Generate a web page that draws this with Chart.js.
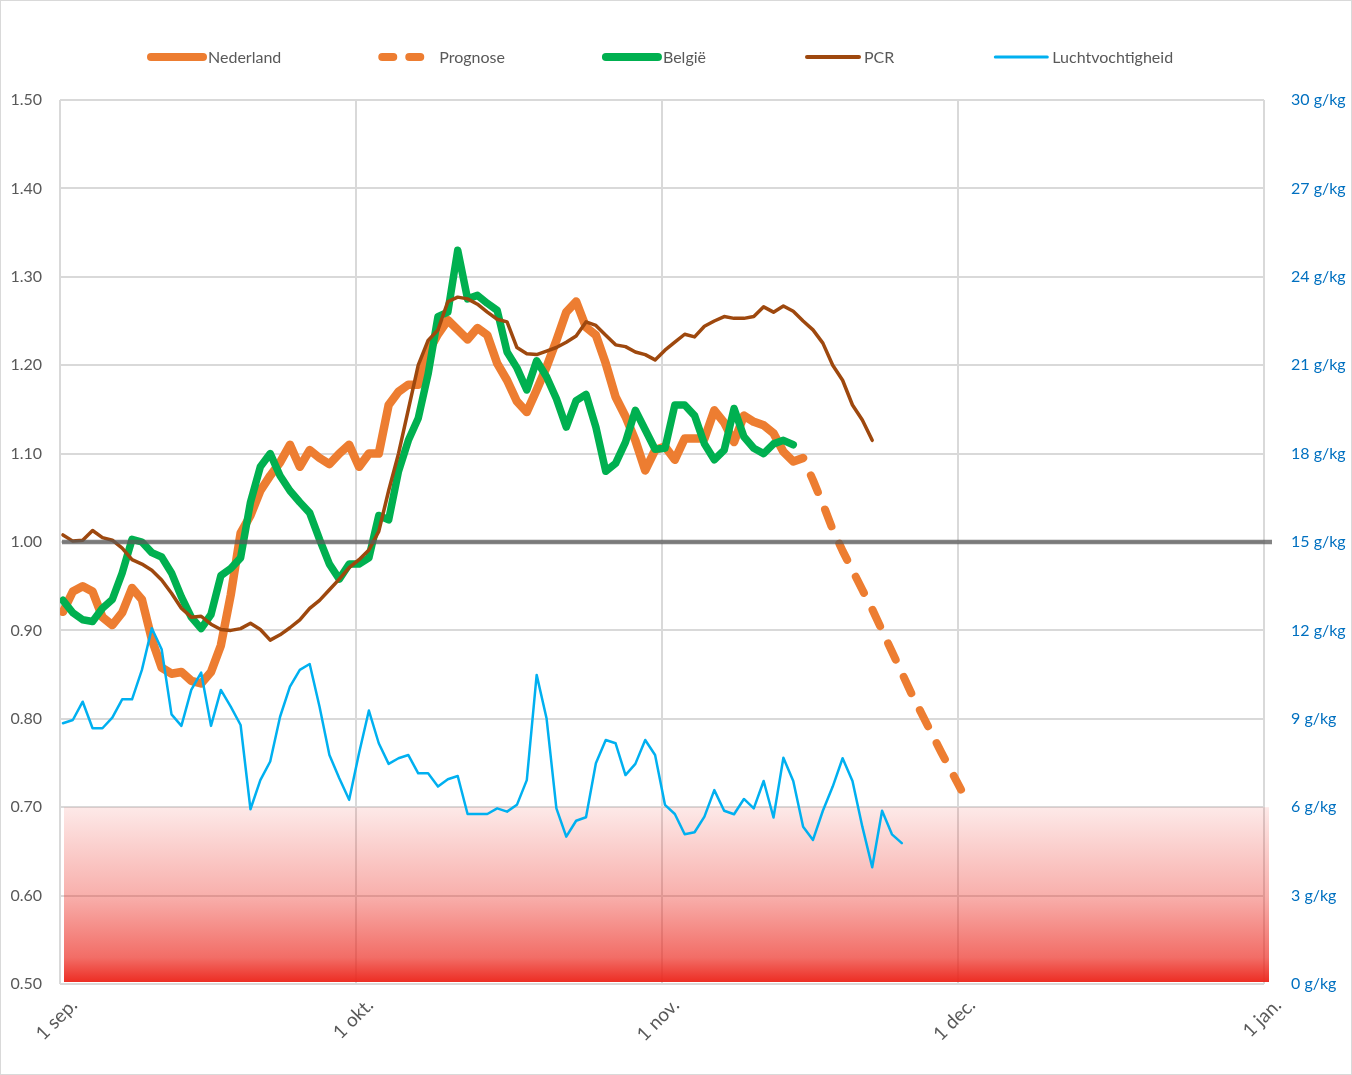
<!DOCTYPE html>
<html>
<head>
<meta charset="utf-8">
<script src="https://cdn.jsdelivr.net/npm/chart.js@4.4.1/dist/chart.umd.min.js"></script>
<style>
  html, body { margin: 0; padding: 0; background: #fff; }
  #wrap { width: 1352px; height: 1075px; }
</style>
</head>
<body>
<div id="wrap"><canvas id="chart" width="1352" height="1075"></canvas></div>
<script>
// x axis: day number counted from 1 sep
const monthDays = [0, 30, 61, 91, 122];
const monthLabels = ["1 sep.", "1 okt.", "1 nov.", "1 dec.", "1 jan."];
// daily points sit a bit after the start of their day, like in the source sheet
const dayOffset = 0.3;

const leftTicks = [0.5, 0.6, 0.7, 0.8, 0.9, 1.0, 1.1, 1.2, 1.3, 1.4, 1.5];
const rightTicks = [0, 3, 6, 9, 12, 15, 18, 21, 24, 27, 30];

const refLevel = 1.0;
const dryBand = [0.5, 0.7];

// series (one value per day, starting at the given day)
const nederlandStart = 0;
const nederland = [
  0.921, 0.944, 0.950, 0.944, 0.915, 0.906, 0.920, 0.948, 0.935, 0.890,
  0.858, 0.851, 0.853, 0.843, 0.840, 0.853, 0.883, 0.940, 1.010, 1.030,
  1.058, 1.075, 1.090, 1.110, 1.085, 1.104, 1.095, 1.088, 1.100, 1.110,
  1.085, 1.100, 1.100, 1.155, 1.170, 1.178, 1.178, 1.215, 1.235, 1.251,
  1.240, 1.229, 1.242, 1.234, 1.202, 1.183, 1.159, 1.147, 1.172, 1.198,
  1.228, 1.260, 1.272, 1.243, 1.234, 1.202, 1.164, 1.142, 1.115, 1.081,
  1.104, 1.108, 1.093, 1.117, 1.117, 1.117, 1.149, 1.135, 1.113, 1.143,
  1.136, 1.132, 1.123, 1.102, 1.091, 1.095
];

const prognoseStart = 75;
const prognose = [
  1.095, 1.070, 1.043, 1.014, 0.990, 0.968, 0.946, 0.924, 0.900, 0.876,
  0.852, 0.828, 0.806, 0.784, 0.762, 0.741, 0.720
];

const belgieStart = 0;
const belgie = [
  0.934, 0.920, 0.912, 0.910, 0.925, 0.935, 0.965, 1.003, 1.000, 0.988,
  0.983, 0.965, 0.938, 0.915, 0.902, 0.918, 0.962, 0.970, 0.982, 1.045,
  1.085, 1.100, 1.075, 1.058, 1.045, 1.033, 1.003, 0.975, 0.958, 0.975,
  0.975, 0.982, 1.030, 1.025, 1.080, 1.115, 1.140, 1.190, 1.255, 1.260,
  1.330, 1.275, 1.279, 1.270, 1.262, 1.215, 1.197, 1.172, 1.205, 1.187,
  1.162, 1.130, 1.160, 1.167, 1.130, 1.080, 1.089, 1.113, 1.149, 1.127,
  1.105, 1.106, 1.155, 1.155, 1.143, 1.111, 1.093, 1.104, 1.151, 1.119,
  1.106, 1.100, 1.111, 1.115, 1.110
];

const pcrStart = 0;
const pcr = [
  1.008, 1.001, 1.002, 1.013, 1.005, 1.002, 0.993, 0.980, 0.975, 0.968,
  0.957, 0.942, 0.925, 0.915, 0.916, 0.907, 0.901, 0.900, 0.902, 0.908,
  0.901, 0.889, 0.895, 0.903, 0.912, 0.925, 0.934, 0.946, 0.958, 0.971,
  0.980, 0.991, 1.012, 1.058, 1.100, 1.150, 1.200, 1.228, 1.240, 1.272,
  1.277, 1.275, 1.269, 1.260, 1.252, 1.249, 1.220, 1.213, 1.212, 1.216,
  1.220, 1.226, 1.233, 1.249, 1.245, 1.234, 1.223, 1.221, 1.215, 1.212,
  1.206, 1.217, 1.226, 1.235, 1.232, 1.244, 1.250, 1.255, 1.253, 1.253,
  1.255, 1.266, 1.260, 1.267, 1.261, 1.250, 1.240, 1.225, 1.200, 1.183,
  1.155, 1.138, 1.115
];

// g/kg, right axis
const luchtStart = 0;
const lucht = [
  8.85, 8.96, 9.58, 8.68, 8.68, 9.04, 9.66, 9.66, 10.66, 12.07,
  11.36, 9.15, 8.76, 9.98, 10.57, 8.76, 9.98, 9.41, 8.79, 5.93,
  6.92, 7.55, 9.07, 10.09, 10.66, 10.86, 9.41, 7.77, 6.98, 6.25,
  7.83, 9.28, 8.17, 7.47, 7.66, 7.77, 7.15, 7.15, 6.70, 6.95,
  7.06, 5.77, 5.77, 5.77, 5.96, 5.85, 6.08, 6.92, 10.49, 9.02,
  5.96, 5.00, 5.54, 5.66, 7.49, 8.28, 8.17, 7.09, 7.47, 8.28,
  7.77, 6.08, 5.77, 5.08, 5.15, 5.68, 6.58, 5.88, 5.76, 6.28,
  5.96, 6.89, 5.65, 7.68, 6.89, 5.34, 4.89, 5.88, 6.70, 7.66,
  6.89, 5.34, 3.96, 5.88, 5.08, 4.78
];

const FONT = "Lato, 'Open Sans', sans-serif";
const TEXT = "#595959";
const GRID = "#d9d9d9";

function toPoints(values, start) {
  return values.map((v, i) => ({ x: start + i + dayOffset, y: v }));
}

function lineSet(label, values, start, color, width, extra) {
  return Object.assign({
    label: label,
    data: toPoints(values, start),
    borderColor: color,
    backgroundColor: color,
    borderWidth: width,
    pointRadius: 0,
    tension: 0,
    fill: false,
    borderCapStyle: "round",
    borderJoinStyle: "round",
    yAxisID: "y"
  }, extra || {});
}

// red "dry air" zone under 0.70
const bandPlugin = {
  id: "dryBand",
  beforeDatasetsDraw(chart) {
    const { ctx, chartArea, scales } = chart;
    const yTop = scales.y.getPixelForValue(dryBand[1]);
    const yBot = scales.y.getPixelForValue(dryBand[0]);
    const g = ctx.createLinearGradient(0, yTop, 0, yBot);
    g.addColorStop(0, "rgba(236,40,30,0.10)");
    g.addColorStop(0.5, "rgba(236,40,30,0.37)");
    g.addColorStop(0.85, "rgba(236,40,30,0.68)");
    g.addColorStop(1, "rgba(236,40,30,1)");
    ctx.save();
    ctx.fillStyle = g;
    ctx.fillRect(chartArea.left + 4, yTop, chartArea.width + 1, yBot - yTop - 2);
    ctx.restore();
  }
};

// grey line at R = 1
const refPlugin = {
  id: "refLine",
  afterDatasetsDraw(chart) {
    const { ctx, chartArea, scales } = chart;
    const y = scales.y.getPixelForValue(refLevel);
    ctx.save();
    ctx.strokeStyle = "rgba(90,90,90,0.75)";
    ctx.lineWidth = 4.5;
    ctx.beginPath();
    ctx.moveTo(chartArea.left + 2, y);
    ctx.lineTo(chartArea.right + 8, y);
    ctx.stroke();
    ctx.restore();
  }
};

// legend drawn by hand so the icons look like the lines
const legendPlugin = {
  id: "topLegend",
  afterDraw(chart) {
    const ctx = chart.ctx;
    const items = chart.data.datasets.filter((d) => d.legendPos !== undefined)
      .sort((a, b) => a.legendPos - b.legendPos);
    ctx.save();
    ctx.font = "16px " + FONT;
    ctx.textBaseline = "middle";
    let x = 147;
    const y = 57;
    items.forEach((d) => {
      ctx.strokeStyle = d.borderColor;
      ctx.lineWidth = d.legendWidth;
      ctx.lineCap = "round";
      ctx.beginPath();
      if (d.borderDash) {
        ctx.setLineDash([11, 16]);
        ctx.moveTo(x + 4, y);
        ctx.lineTo(x + 42, y);
      } else {
        ctx.setLineDash([]);
        ctx.moveTo(x + 4, y);
        ctx.lineTo(x + 56, y);
      }
      ctx.stroke();
      ctx.setLineDash([]);
      ctx.fillStyle = TEXT;
      ctx.fillText(d.label, x + 61, y + 1);
      x += 61 + ctx.measureText(d.label).width + 97;
    });
    ctx.restore();
  }
};

const framePlugin = {
  id: "frame",
  beforeDraw(chart) {
    const ctx = chart.ctx;
    ctx.save();
    ctx.fillStyle = "#fff";
    ctx.fillRect(0, 0, chart.width, chart.height);
    ctx.restore();
  },
  afterDraw(chart) {
    const ctx = chart.ctx;
    ctx.save();
    ctx.strokeStyle = GRID;
    ctx.lineWidth = 1;
    ctx.strokeRect(0.5, 0.5, chart.width - 1, chart.height - 1);
    ctx.restore();
  }
};

Chart.defaults.font.family = FONT;
Chart.defaults.font.size = 16;
Chart.defaults.color = TEXT;

const ctx = document.getElementById("chart").getContext("2d");
new Chart(ctx, {
  type: "line",
  data: {
    datasets: [
      lineSet("Luchtvochtigheid", lucht, luchtStart, "#00b0f0", 2.5,
        { yAxisID: "y2", order: 1, legendPos: 4, legendWidth: 3 }),
      lineSet("PCR", pcr, pcrStart, "#9e480e", 3.5,
        { order: 2, legendPos: 3, legendWidth: 4 }),
      lineSet("België", belgie, belgieStart, "#00b050", 7.5,
        { order: 3, legendPos: 2, legendWidth: 8 }),
      lineSet("Prognose", prognose, prognoseStart, "#ed7d31", 8,
        { order: 4, legendPos: 1, legendWidth: 8, borderDash: [18, 19], borderDashOffset: 18 }),
      lineSet("Nederland", nederland, nederlandStart, "#ed7d31", 8.5,
        { order: 5, legendPos: 0, legendWidth: 8 })
    ]
  },
  options: {
    responsive: false,
    animation: false,
    layout: { padding: { top: 100, right: 0, left: 0, bottom: 0 } },
    plugins: {
      legend: { display: false },
      tooltip: { enabled: false }
    },
    scales: {
      x: {
        type: "linear",
        min: monthDays[0],
        max: monthDays[monthDays.length - 1],
        afterBuildTicks: (scale) => {
          scale.ticks = monthDays.map((v) => ({ value: v }));
        },
        afterFit: (scale) => { scale.height = 91; },
        ticks: {
          autoSkip: false,
          minRotation: 45,
          maxRotation: 45,
          padding: 10,
          labelOffset: 14,
          color: TEXT,
          font: { size: 19 },
          callback: (value) => monthLabels[monthDays.indexOf(value)]
        },
        grid: { color: GRID, lineWidth: 2, drawTicks: false },
        border: { display: false }
      },
      y: {
        position: "left",
        min: leftTicks[0],
        max: leftTicks[leftTicks.length - 1],
        afterBuildTicks: (scale) => {
          scale.ticks = leftTicks.map((v) => ({ value: v }));
        },
        afterFit: (scale) => { scale.width = 60; },
        ticks: {
          padding: 18,
          color: TEXT,
          callback: (value) => Number(value).toFixed(2)
        },
        grid: { color: GRID, lineWidth: 2, drawTicks: false },
        border: { display: false }
      },
      y2: {
        position: "right",
        min: rightTicks[0],
        max: rightTicks[rightTicks.length - 1],
        afterBuildTicks: (scale) => {
          scale.ticks = rightTicks.map((v) => ({ value: v }));
        },
        afterFit: (scale) => { scale.width = 88; },
        ticks: {
          padding: 27,
          color: "#0070c0",
          callback: (value) => value + " g/kg"
        },
        grid: { display: false, drawTicks: false },
        border: { display: false }
      }
    }
  },
  plugins: [framePlugin, bandPlugin, refPlugin, legendPlugin]
});
</script>
</body>
</html>
